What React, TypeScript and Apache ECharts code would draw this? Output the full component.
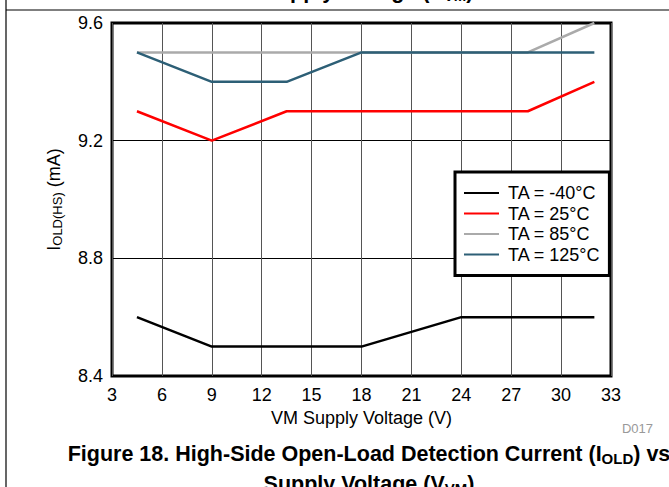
import React, { useEffect, useRef } from "react";
import * as echarts from "echarts";

const voltages = [4.5, 9, 13.5, 18, 24, 28, 32];
const seriesNames = ["TA = -40°C", "TA = 25°C", "TA = 85°C", "TA = 125°C"];
const taMinus40 = [8.6, 8.5, 8.5, 8.5, 8.6, 8.6, 8.6];
const ta25 = [9.3, 9.2, 9.3, 9.3, 9.3, 9.3, 9.4];
const ta85 = [9.5, 9.5, 9.5, 9.5, 9.5, 9.5, 9.6];
const ta125 = [9.5, 9.4, 9.4, 9.5, 9.5, 9.5, 9.5];
const seriesColors = ["#000000", "#ff0000", "#aaaaaa", "#2d5f76"];

const FONT = "'Liberation Sans', Arial, sans-serif";

export default function App() {
  const ref = useRef<HTMLDivElement>(null);
  useEffect(() => {
    if (!ref.current) return;
    const chart = echarts.init(ref.current, null, { renderer: "svg" });
    const all = [taMinus40, ta25, ta85, ta125];
    const captionRich = {
      b: { fontSize: 21.5, fontWeight: "bold", fontFamily: FONT, lineHeight: 24, color: "#000" },
      s: { fontSize: 15, fontWeight: "bold", fontFamily: FONT, lineHeight: 15, verticalAlign: "bottom", color: "#000" },
    };
    chart.setOption({
      animation: false,
      backgroundColor: "#ffffff",
      textStyle: { fontFamily: FONT },
      grid: {
        left: 112,
        top: 23,
        right: 58,
        bottom: 111,
        show: true,
        borderColor: "#000",
        borderWidth: 3,
        backgroundColor: "transparent",
      },
      xAxis: {
        type: "value",
        min: 3,
        max: 33,
        interval: 3,
        name: "VM Supply Voltage (V)",
        nameLocation: "middle",
        nameGap: 29,
        nameTextStyle: { fontSize: 18, color: "#000", fontFamily: FONT },
        axisLine: { show: false },
        axisTick: { show: false },
        axisLabel: { fontSize: 18, color: "#000", margin: 10, fontFamily: FONT },
        splitLine: { show: true, lineStyle: { color: "#555", width: 1 } },
      },
      yAxis: {
        type: "value",
        min: 8.4,
        max: 9.6,
        interval: 0.4,
        name: "{m|I}{s|OLD(HS)}{m| (mA)}",
        nameLocation: "middle",
        nameRotate: 90,
        nameGap: 48,
        nameTextStyle: {
          fontSize: 18,
          color: "#000",
          fontFamily: FONT,
          rich: {
            m: { fontSize: 18, lineHeight: 20, fontFamily: FONT, color: "#000" },
            s: { fontSize: 13, lineHeight: 13, verticalAlign: "bottom", fontFamily: FONT, color: "#000" },
          },
        },
        axisLine: { show: false },
        axisTick: { show: false },
        axisLabel: {
          fontSize: 18,
          color: "#000",
          margin: 9,
          fontFamily: FONT,
          formatter: (v: number) => v.toFixed(1),
        },
        splitLine: { show: true, lineStyle: { color: "#000", width: 1 } },
      },
      legend: {
        show: true,
        orient: "vertical",
        left: 455,
        top: 172,
        data: seriesNames,
        backgroundColor: "#fff",
        borderColor: "#000",
        borderWidth: 3,
        padding: [12, 9, 12, 8],
        itemWidth: 35,
        itemHeight: 14,
        itemGap: 2.5,
        itemStyle: { opacity: 0 },
        textStyle: { fontSize: 18, color: "#000", fontFamily: FONT, padding: [0, 0, 0, 4] },
      },
      series: seriesNames.map((name, i) => ({
        name,
        type: "line",
        data: voltages.map((x, j) => [x, all[i][j]]),
        symbol: "none",
        lineStyle: { color: seriesColors[i], width: 2.5 },
        itemStyle: { color: seriesColors[i] },
        color: seriesColors[i],
        z: 3 + i,
      })),
      graphic: [
        {
          type: "line",
          shape: { x1: 6, y1: 0, x2: 6, y2: 487 },
          style: { stroke: "#000", lineWidth: 1.2 },
          silent: true,
        },
        {
          type: "line",
          shape: { x1: 6, y1: 10, x2: 669, y2: 10 },
          style: { stroke: "#000", lineWidth: 1.2 },
          silent: true,
        },
        {
          type: "text",
          x: 368,
          y: -9,
          style: {
            text: "{b|Supply Voltage (V}{s|VM}{b|)}",
            rich: captionRich,
            align: "center",
            verticalAlign: "middle",
          },
          silent: true,
        },
        {
          type: "text",
          x: 653,
          y: 428,
          style: {
            text: "D017",
            font: "13px " + FONT,
            fill: "#999",
            align: "right",
            verticalAlign: "middle",
          },
          silent: true,
        },
        {
          type: "text",
          x: 369,
          y: 454,
          style: {
            text: "{b|Figure 18. High-Side Open-Load Detection Current (I}{s|OLD}{b|) vs}",
            rich: captionRich,
            align: "center",
            verticalAlign: "middle",
          },
          silent: true,
        },
        {
          type: "text",
          x: 369,
          y: 483.5,
          style: {
            text: "{b|Supply Voltage (V}{s|VM}{b|)}",
            rich: captionRich,
            align: "center",
            verticalAlign: "middle",
          },
          silent: true,
        },
      ],
    });
    return () => chart.dispose();
  }, []);
  return (
    <div
      ref={ref}
      style={{ position: "fixed", left: 0, top: 0, width: 669, height: 487, background: "#fff" }}
    />
  );
}
